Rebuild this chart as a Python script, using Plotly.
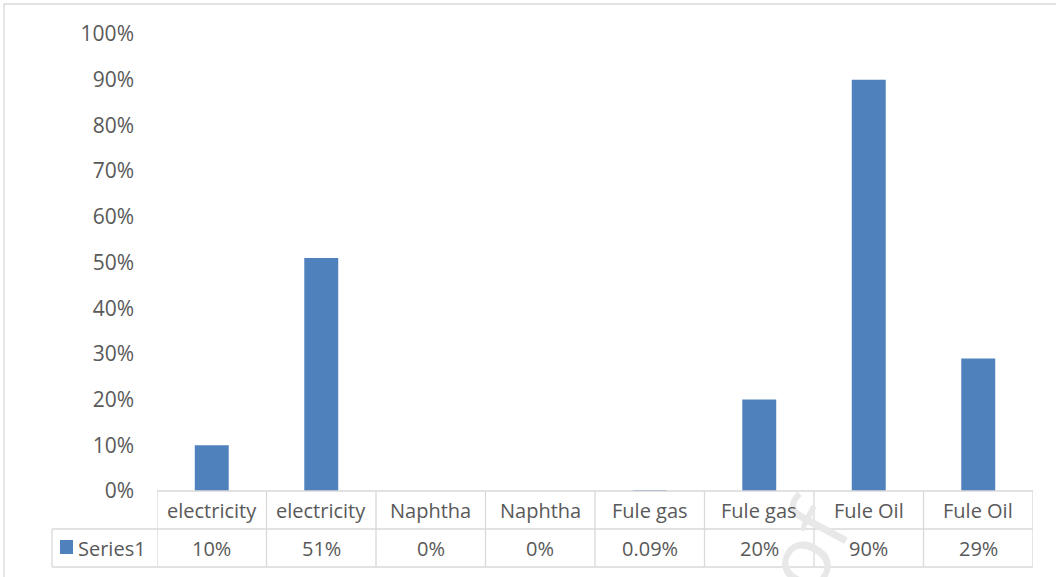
import plotly.graph_objects as go

# Data
categories = ["electricity", "electricity", "Naphtha", "Naphtha",
              "Fule gas", "Fule gas", "Fule Oil", "Fule Oil"]
series_name = "Series1"
values = [0.10, 0.51, 0.0, 0.0, 0.0009, 0.20, 0.90, 0.29]
y_ticks = [i / 10 for i in range(11)]

BAR = "#4F81BD"
TEXT = "#595959"
GRID = "#D9D9D9"
FONT = "Open Sans"

W, H = 1056, 577
L, R, T, B = 157, 23, 34, 86
plot_w, plot_h = W - L - R, H - T - B


def px_x(px):
    return (px - L) / plot_w


def px_y(py):
    return (H - B - py) / plot_h


def fmt(v):
    return f"{round(v * 100, 2):g}%"


idx = list(range(len(categories)))

fig = go.Figure(go.Bar(
    x=idx, y=values, name=series_name,
    marker=dict(color=BAR, line=dict(width=0)),
))

# Data table under the plot area
row1, row2, row3 = 0, px_y(529), px_y(567)
shapes = []
line = dict(color=GRID, width=1.3)
# horizontal rules for the category/value rows
shapes.append(dict(type="line", xref="x", yref="paper", x0=-0.5, x1=len(idx) - 0.5,
                   y0=row1, y1=row1, line=line))
shapes.append(dict(type="line", xref="paper", yref="paper", x0=px_x(52), x1=1,
                   y0=row2, y1=row2, line=line))
shapes.append(dict(type="line", xref="paper", yref="paper", x0=px_x(52), x1=1,
                   y0=row3, y1=row3, line=line))
# vertical separators
for b in [i - 0.5 for i in range(len(idx) + 1)]:
    shapes.append(dict(type="line", xref="x", yref="paper", x0=b, x1=b,
                       y0=row1, y1=row3, line=line))
shapes.append(dict(type="line", xref="paper", yref="paper", x0=px_x(52), x1=px_x(52),
                   y0=row2, y1=row3, line=line))
# legend key swatch
shapes.append(dict(type="rect", xref="paper", yref="paper",
                   x0=px_x(60), x1=px_x(73), y0=px_y(554), y1=px_y(540),
                   fillcolor=BAR, line=dict(width=0)))
# chart area border
shapes.append(dict(type="rect", xref="paper", yref="paper",
                   x0=px_x(4), x1=px_x(1070), y0=px_y(4), y1=px_y(590),
                   line=dict(color=GRID, width=1.3), fillcolor="rgba(0,0,0,0)",
                   layer="below"))

annotations = []
# faint watermark fragment (drawn first so table text sits on top)
annotations.append(dict(x=px_x(805), xref="paper", y=px_y(545), yref="paper",
                        xanchor="center", yanchor="middle",
                        text="of", showarrow=False, textangle=-62,
                        font=dict(family=FONT, size=88, color="#E8E8E8")))
for i, (c, v) in enumerate(zip(categories, values)):
    annotations.append(dict(x=i, xref="x", y=(row1 + row2) / 2, yref="paper",
                            text=c, showarrow=False, yanchor="middle",
                            font=dict(family=FONT, size=20, color=TEXT)))
    annotations.append(dict(x=i, xref="x", y=(row2 + row3) / 2, yref="paper",
                            text=fmt(v), showarrow=False, yanchor="middle",
                            font=dict(family=FONT, size=20, color=TEXT)))
annotations.append(dict(x=px_x(76), xref="paper", y=(row2 + row3) / 2, yref="paper",
                        text=series_name, showarrow=False, xanchor="left",
                        yanchor="middle", font=dict(family=FONT, size=20, color=TEXT)))

fig.update_layout(
    width=W, height=H,
    margin=dict(l=L, r=R, t=T, b=B),
    paper_bgcolor="white", plot_bgcolor="white",
    showlegend=False,
    bargap=0.69,
    font=dict(family=FONT, color=TEXT),
    xaxis=dict(range=[-0.5, len(idx) - 0.5], showticklabels=False, showgrid=False,
               zeroline=False, showline=False, ticks=""),
    yaxis=dict(range=[0, 1], tickvals=y_ticks, tickformat=".0%", showgrid=False,
               zeroline=False, showline=False, ticks="", ticklabelstandoff=22,
               tickfont=dict(family=FONT, size=21, color=TEXT)),
    shapes=shapes,
    annotations=annotations,
)

fig.write_html("out.html")
